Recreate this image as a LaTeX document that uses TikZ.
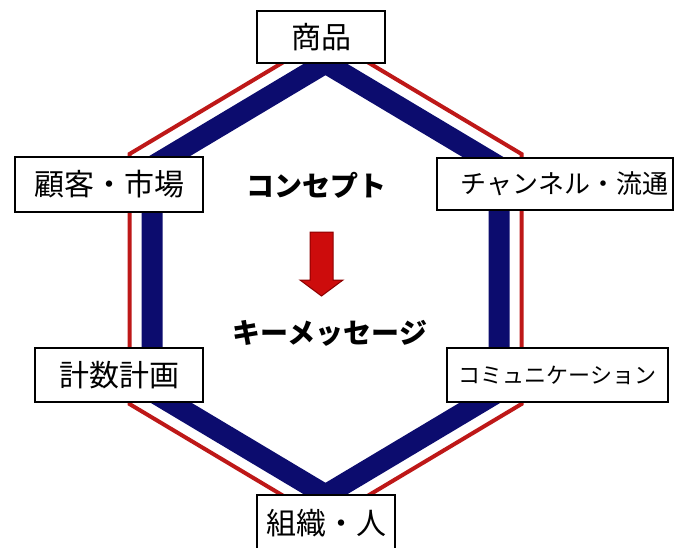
\documentclass[tikz,border=0pt]{standalone}
\usepackage{fontspec}
\setmainfont{Noto Sans CJK JP}
\definecolor{navyline}{RGB}{12,12,110}
\definecolor{hexred}{RGB}{190,24,24}
\definecolor{arrowred}{RGB}{205,12,12}
\definecolor{arrowedge}{RGB}{140,0,0}
\begin{document}
\begin{tikzpicture}[x=1pt,y=-1pt,
  lbl/.style={draw=black, line width=2.5pt, fill=white, inner sep=0pt,
    font=\fontsize{30}{30}\selectfont},
  mid/.style={inner sep=0pt, font=\fontsize{28}{28}\selectfont\bfseries},
  redhex/.style={hexred, line width=4pt, line join=miter},
  navyhex/.style={navyline, line width=21pt, line join=miter}]
\useasboundingbox (0,0) rectangle (676,547);
\clip (0,0) rectangle (676,547);
\fill[white] (0,0) rectangle (676,547);
% outer red hexagon
\coordinate (rT) at (325.5,37);
\coordinate (rUL) at (129.5,154);
\coordinate (rLL) at (129.5,404);
\coordinate (rB) at (325.5,521);
\coordinate (rLR) at (521.5,404);
\coordinate (rUR) at (521.5,154);
\draw[redhex] (rT) -- (rUL) -- (rLL) -- (rB) -- (rLR) -- (rUR) -- cycle;
% navy hexagon
\coordinate (nT) at (325.5,63);
\coordinate (nUL) at (152,166.6);
\coordinate (nLL) at (152,391.4);
\coordinate (nB) at (325.5,495);
\coordinate (nLR) at (499,391.4);
\coordinate (nUR) at (499,166.6);
\draw[navyhex] (nT) -- (nUL) -- (nLL) -- (nB) -- (nLR) -- (nUR) -- cycle;
% boxes
\node[lbl, minimum width=128, minimum height=52] (shohin) at (321,37) {商品};
\node[lbl, minimum width=188, minimum height=55] (kokyaku) at (109,184.5) {顧客・市場};
\node[lbl, minimum height=52, text width=226, inner xsep=5pt, align=right,
  font=\fontsize{26}{26}\selectfont] (channel) at (555,184) {チャンネル・流通};
\node[lbl, minimum width=168, minimum height=54] (keikaku) at (119,375) {計数計画};
\node[lbl, minimum width=221, minimum height=54,
  font=\fontsize{22}{22}\selectfont] (comm) at (557.5,375) {コミュニケーション};
\node[lbl, minimum width=138, minimum height=57] (soshiki) at (326,523.5) {組織・人};
% centre
\node[mid] (concept) at (316.5,185) {コンセプト};
\node[mid] (keymsg) at (330,333) {キーメッセージ};
\filldraw[fill=arrowred, draw=arrowedge, line width=1pt]
  (310,232) -- (333,232) -- (333,280) -- (343,280) -- (321.5,296) -- (300,280) -- (310,280) -- cycle;
\end{tikzpicture}
\end{document}
